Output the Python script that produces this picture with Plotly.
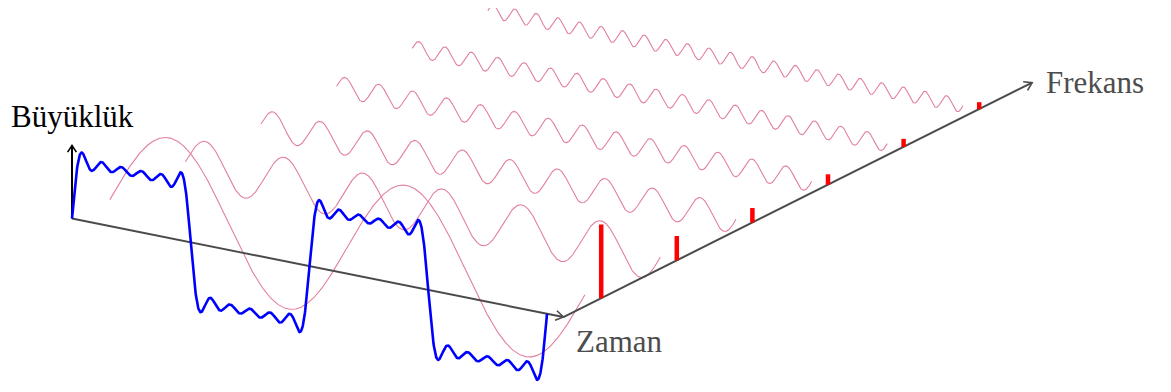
import numpy as np
import plotly.graph_objects as go

# ---- data ----
harmonics = [1, 3, 5, 7, 9, 11]                 # odd harmonics of the square wave
amplitudes = [1.27, 0.42, 0.25, 0.18, 0.14, 0.12]  # magnitude of each harmonic
periods_shown = 2                                 # periods of the time signal drawn
axis_labels = ["Büyüklük", "Zaman", "Frekans"]

# ---- oblique projection (time, frequency, magnitude) -> page pixels ----
W, H = 1171, 392
PAGE_OFF = 8                  # default body margin of the html page
OX, OY = 72.0, 218.5          # origin
TX, TY = 37.8, 7.58           # per radian of time
FX, FY = 37.8, -18.9          # per unit of frequency
AZ = 58.0                     # per unit of magnitude
T_AXIS = 13.0                 # length of time axis
F_AXIS = 12.4                 # length of frequency axis
MAG_AXIS = 1.26


def proj(t, f, a):
    t = np.asarray(t, dtype=float)
    f = np.asarray(f, dtype=float)
    a = np.asarray(a, dtype=float)
    return OX + t * TX + f * FX, OY + t * TY + f * FY - a * AZ


def chevron(x0, y0, x1, y1, size=9.0, ang=np.radians(33)):
    dx, dy = x1 - x0, y1 - y0
    L = np.hypot(dx, dy)
    ux, uy = dx / L, dy / L
    pts = []
    for s in (1, -1):
        c, sn = np.cos(s * ang), np.sin(s * ang)
        rx = -(ux * c - uy * sn)
        ry = -(ux * sn + uy * c)
        pts.append((x1 + rx * size, y1 + ry * size))
    return [pts[0][0], x1, pts[1][0]], [pts[0][1], y1, pts[1][1]]


fig = go.Figure()
t = np.linspace(0, 2 * np.pi * periods_shown, 1600)

# harmonics drawn along the frequency axis
for n, amp in zip(harmonics, amplitudes):
    x, y = proj(t, np.full_like(t, n), amp * np.sin(n * t))
    fig.add_trace(go.Scatter(x=x, y=y, mode="lines",
                             line=dict(color="rgb(226,128,156)", width=1.1),
                             hoverinfo="skip", showlegend=False))

# time axis
tx, ty = proj([0, T_AXIS], [0, 0], [0, 0])
fig.add_trace(go.Scatter(x=tx, y=ty, mode="lines",
                         line=dict(color="#4a4a4a", width=2),
                         hoverinfo="skip", showlegend=False))
cx, cy = chevron(tx[0], ty[0], tx[1], ty[1])
fig.add_trace(go.Scatter(x=cx, y=cy, mode="lines",
                         line=dict(color="#4a4a4a", width=1.6),
                         hoverinfo="skip", showlegend=False))

# frequency axis
fx, fy = proj([T_AXIS, T_AXIS], [0, F_AXIS], [0, 0])
fig.add_trace(go.Scatter(x=fx, y=fy, mode="lines",
                         line=dict(color="#4a4a4a", width=2),
                         hoverinfo="skip", showlegend=False))
cx, cy = chevron(fx[0], fy[0], fx[1], fy[1])
fig.add_trace(go.Scatter(x=cx, y=cy, mode="lines",
                         line=dict(color="#4a4a4a", width=1.6),
                         hoverinfo="skip", showlegend=False))

# magnitude axis
mx, my = proj([0, 0], [0, 0], [0, MAG_AXIS])
fig.add_trace(go.Scatter(x=mx, y=my, mode="lines",
                         line=dict(color="black", width=2),
                         hoverinfo="skip", showlegend=False))
cx, cy = chevron(mx[0], my[0], mx[1], my[1], size=8)
fig.add_trace(go.Scatter(x=cx, y=cy, mode="lines",
                         line=dict(color="black", width=1.6),
                         hoverinfo="skip", showlegend=False))

# spectrum bars
for n, amp in zip(harmonics, amplitudes):
    bx, by = proj([T_AXIS, T_AXIS], [n, n], [0, amp])
    fig.add_trace(go.Scatter(x=bx, y=by, mode="lines",
                             line=dict(color="#ff0000", width=4.5),
                             hoverinfo="skip", showlegend=False))

# time-domain signal: sum of harmonics
total = np.zeros_like(t)
for n, amp in zip(harmonics, amplitudes):
    total += amp * np.sin(n * t)
x, y = proj(t, np.zeros_like(t), total)
fig.add_trace(go.Scatter(x=x, y=y, mode="lines",
                         line=dict(color="#0000ff", width=2.6),
                         hoverinfo="skip", showlegend=False))

font = dict(family="Liberation Serif, Times New Roman, serif", size=31)
fig.add_annotation(x=9, y=116, text=axis_labels[0], showarrow=False,
                   xanchor="left", yanchor="middle", font=dict(color="black", **font))
fig.add_annotation(x=574, y=341, text=axis_labels[1], showarrow=False,
                   xanchor="left", yanchor="middle", font=dict(color="#4d4d4d", **font))
fig.add_annotation(x=1044, y=82, text=axis_labels[2], showarrow=False,
                   xanchor="left", yanchor="middle", font=dict(color="#4d4d4d", **font))

fig.update_layout(
    width=W, height=H, autosize=False,
    margin=dict(l=0, r=0, t=0, b=0),
    paper_bgcolor="white", plot_bgcolor="white",
    xaxis=dict(range=[PAGE_OFF, W + PAGE_OFF], visible=False, fixedrange=True),
    yaxis=dict(range=[H + PAGE_OFF, PAGE_OFF], visible=False, fixedrange=True),
)

fig.write_html("out.html")
